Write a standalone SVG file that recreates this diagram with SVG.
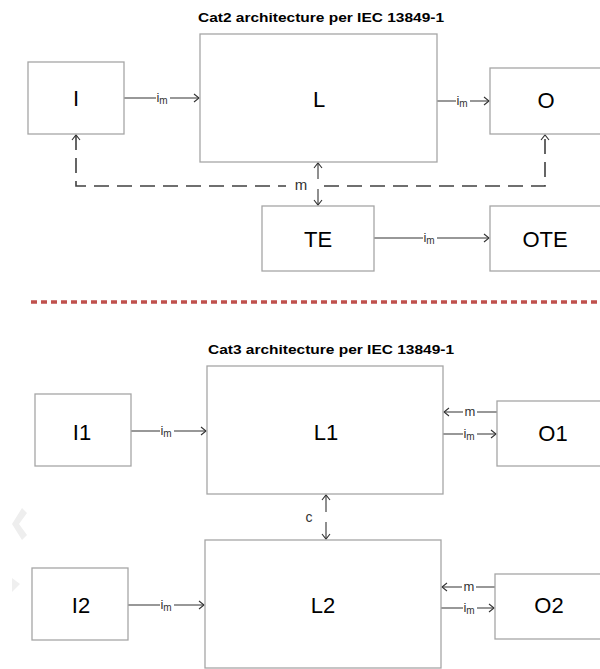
<svg xmlns="http://www.w3.org/2000/svg" width="600" height="669" viewBox="0 0 600 669">
<defs>
<style>
.box{fill:#fff;stroke:#a6a6a6;stroke-width:1.3}
.lbl{font-family:"Liberation Sans",Arial,sans-serif;font-size:22px;fill:#000;text-anchor:middle}
.ttl{font-family:"Liberation Sans",Arial,sans-serif;font-size:13px;font-weight:bold;fill:#000;text-anchor:middle}
.ln{fill:none;stroke:#333;stroke-width:1.1}
.dash{fill:none;stroke:#404040;stroke-width:1.6;stroke-dasharray:15 8}
.sm{font-family:"Liberation Sans",Arial,sans-serif;font-size:13px;fill:#333;text-anchor:middle}
.sub{font-size:10px}
.bg{fill:#fff}
</style>
<marker id="ah" markerUnits="userSpaceOnUse" markerWidth="10" markerHeight="12" refX="6" refY="5" orient="auto-start-reverse">
<path d="M1,1 L6,5 L1,9" fill="none" stroke="#333" stroke-width="1.1" stroke-dasharray="none"/>
</marker>
</defs>
<rect width="600" height="669" fill="#fff"/>

<!-- faint artifacts -->
<polygon points="22,508 27,513 19,524 27,535 22,540 12,524" fill="#eeeeee"/>
<polygon points="12,578 20,584 12,592" fill="#efefef"/>

<text class="ttl" x="321" y="22" textLength="246" lengthAdjust="spacingAndGlyphs">Cat2 architecture per IEC 13849-1</text>
<text class="ttl" x="331" y="354" textLength="246" lengthAdjust="spacingAndGlyphs">Cat3 architecture per IEC 13849-1</text>

<line x1="31" y1="302" x2="600" y2="302" stroke="#c0504d" stroke-width="3.5" stroke-dasharray="6 4"/>

<g id="connectors">
<!-- Cat2 -->
<line class="ln" x1="124" y1="98" x2="199" y2="98" marker-end="url(#ah)"/>
<rect class="bg" x="156" y="90" width="14" height="16"/>
<text class="sm" x="162" y="102">i<tspan class="sub" dy="2">m</tspan></text>

<line class="ln" x1="437" y1="101" x2="489" y2="101" marker-end="url(#ah)"/>
<rect class="bg" x="456" y="93" width="14" height="16"/>
<text class="sm" x="462" y="105">i<tspan class="sub" dy="2">m</tspan></text>

<line class="ln" x1="374" y1="238" x2="489" y2="238" marker-end="url(#ah)"/>
<rect class="bg" x="423" y="230" width="14" height="16"/>
<text class="sm" x="429" y="242">i<tspan class="sub" dy="2">m</tspan></text>

<path class="dash" d="M76,135 V186 H545 V135" marker-start="url(#ah)" marker-end="url(#ah)"/>
<rect class="bg" x="286" y="178" width="31" height="16"/>
<text class="sm" x="301" y="190" style="font-size:15px">m</text>
<line class="ln" x1="318" y1="179" x2="318" y2="163" marker-end="url(#ah)"/>
<line class="ln" x1="318" y1="189" x2="318" y2="205" marker-end="url(#ah)"/>

<!-- Cat3 -->
<line class="ln" x1="131" y1="431" x2="206" y2="431" marker-end="url(#ah)"/>
<rect class="bg" x="160" y="423" width="14" height="16"/>
<text class="sm" x="166" y="435">i<tspan class="sub" dy="2">m</tspan></text>

<line class="ln" x1="497" y1="412" x2="444" y2="412" marker-end="url(#ah)"/>
<rect class="bg" x="463" y="404" width="14" height="14"/>
<text class="sm" x="470" y="416">m</text>

<line class="ln" x1="443" y1="434" x2="496" y2="434" marker-end="url(#ah)"/>
<rect class="bg" x="463" y="426" width="14" height="16"/>
<text class="sm" x="469" y="438">i<tspan class="sub" dy="2">m</tspan></text>

<line class="ln" x1="326" y1="512" x2="326" y2="495" marker-end="url(#ah)"/>
<line class="ln" x1="326" y1="522" x2="326" y2="539" marker-end="url(#ah)"/>
<text class="sm" x="309" y="522" style="font-size:14px">c</text>

<line class="ln" x1="128" y1="605" x2="204" y2="605" marker-end="url(#ah)"/>
<rect class="bg" x="160" y="597" width="14" height="16"/>
<text class="sm" x="166" y="609">i<tspan class="sub" dy="2">m</tspan></text>

<line class="ln" x1="495" y1="587" x2="442" y2="587" marker-end="url(#ah)"/>
<rect class="bg" x="462" y="579" width="14" height="14"/>
<text class="sm" x="469" y="591">m</text>

<line class="ln" x1="441" y1="608" x2="494" y2="608" marker-end="url(#ah)"/>
<rect class="bg" x="463" y="600" width="14" height="16"/>
<text class="sm" x="469" y="612">i<tspan class="sub" dy="2">m</tspan></text>
</g>

<g id="I"><rect class="box" x="28" y="62" width="96" height="72"/><text class="lbl" x="76" y="106">I</text></g>
<g id="L"><rect class="box" x="200" y="34" width="237" height="128"/><text class="lbl" x="319" y="107">L</text></g>
<g id="O"><rect class="box" x="490" y="68" width="130" height="66"/><text class="lbl" x="546" y="108">O</text></g>
<g id="TE"><rect class="box" x="262" y="206" width="112" height="65"/><text class="lbl" x="318" y="247">TE</text></g>
<g id="OTE"><rect class="box" x="490" y="206" width="130" height="65"/><text class="lbl" x="545" y="247">OTE</text></g>

<g id="I1"><rect class="box" x="35" y="394" width="96" height="72"/><text class="lbl" x="82" y="440">I1</text></g>
<g id="L1"><rect class="box" x="207" y="366" width="236" height="128"/><text class="lbl" x="326" y="440">L1</text></g>
<g id="O1"><rect class="box" x="497" y="401" width="130" height="65"/><text class="lbl" x="553" y="441">O1</text></g>

<g id="I2"><rect class="box" x="32" y="568" width="96" height="72"/><text class="lbl" x="81" y="613">I2</text></g>
<g id="L2"><rect class="box" x="205" y="540" width="236" height="128"/><text class="lbl" x="323" y="613">L2</text></g>
<g id="O2"><rect class="box" x="495" y="574" width="130" height="65"/><text class="lbl" x="549" y="613">O2</text></g>
</svg>
